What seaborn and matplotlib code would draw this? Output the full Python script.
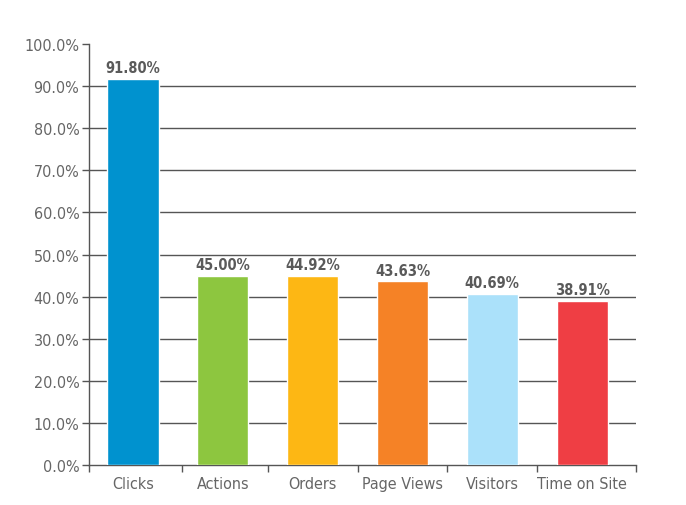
import matplotlib
matplotlib.use("Agg")
import matplotlib.pyplot as plt
import seaborn as sns
import pandas as pd

categories = ["Clicks", "Actions", "Orders", "Page Views", "Visitors", "Time on Site"]
values = [91.80, 45.00, 44.92, 43.63, 40.69, 38.91]
colors = ["#0092CF", "#8DC63F", "#FDB714", "#F58226", "#ABE1FA", "#EF3E44"]
yticks = [0, 10, 20, 30, 40, 50, 60, 70, 80, 90, 100]

sns.set_theme(style="white")
plt.rcParams["font.family"] = ["DejaVu Sans"]
plt.rcParams["font.stretch"] = "condensed"

df = pd.DataFrame({"category": categories, "value": values})

fig = plt.figure(figsize=(6.86, 5.06), dpi=100)
ax = fig.add_axes([89/686, 1-466/506, (636-89)/686, (466-45)/506])

sns.barplot(data=df, x="category", y="value", hue="category", palette=colors,
            legend=False, width=0.57, ax=ax, zorder=3, saturation=1)

ax.set_ylim(0, 100)
ax.set_xlim(-0.49, 5.6)
ax.set_yticks(yticks)
ax.set_yticklabels([f"{v:.1f}%" for v in yticks])
for v in yticks[1:-1]:
    ax.axhline(v, color="#555555", linewidth=1, zorder=1)
ax.set_xlabel("")
ax.set_ylabel("")

for s in ["top", "right"]:
    ax.spines[s].set_visible(False)
for s in ["left", "bottom"]:
    ax.spines[s].set_color("#555555")
    ax.spines[s].set_linewidth(1)

ax.tick_params(axis="y", which="major", length=5, width=1, color="#555555",
               labelsize=11.5, labelcolor="#666666", left=True, pad=2)
ax.tick_params(axis="x", which="major", length=0, labelsize=11.5,
               labelcolor="#666666", pad=8)
ax.set_xticks([-0.49, 0.55, 1.5, 2.5, 3.5, 4.5, 5.6], minor=True)
ax.tick_params(axis="x", which="minor", length=5, width=1, color="#555555",
               bottom=True)

for i, v in enumerate(values):
    ax.text(i, v + 0.9, f"{v:.2f}%", ha="center", va="bottom",
            fontsize=10.5, fontweight="bold", color="#5a5a5a")

fig.savefig("out.png", dpi=100)
